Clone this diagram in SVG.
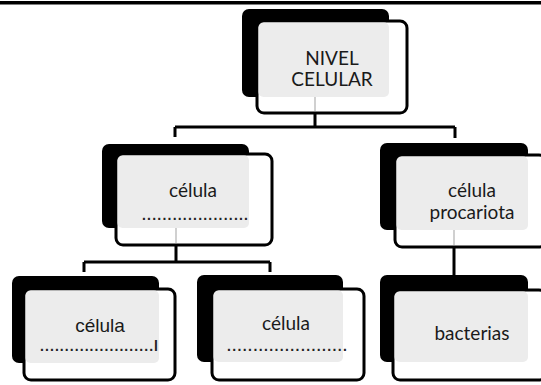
<svg xmlns="http://www.w3.org/2000/svg" width="541" height="385" viewBox="0 0 541 385">
<style>
.blk{fill:#000}
.wht{fill:#fff;stroke:#000;stroke-width:3}
.gry{fill:#ececec}
.lbl{font-family:Lato,"Open Sans",sans-serif;font-size:19px;fill:#1a1a1a;text-anchor:middle}
.arial{font-family:"Liberation Sans",Arial,sans-serif;font-size:19px;fill:#1a1a1a;text-anchor:middle}
.dots{font-family:"Liberation Sans",Arial,sans-serif;font-size:14px;font-weight:bold;fill:#222}
.con{stroke:#000;stroke-width:3;fill:none}
.ghost{stroke:#d0d0d0;stroke-width:2;fill:none}
</style>
<rect x="0" y="1" width="541" height="3.5" fill="#000"/>
<g id="connectors">
<path class="con" d="M315,113V127M175,127H455M175,127V137M455,127V138"/>
<path class="con" d="M176,245V262M84,262H270M84,262V272M270,262V272"/>
<path class="con" d="M454,247V275"/>
</g>
<g id="n1">
<rect class="blk" x="242" y="9" width="147" height="88" rx="7"/>
<rect class="wht" x="257" y="21" width="150" height="92" rx="7"/>
<rect class="gry" x="258.5" y="22.5" width="130.5" height="74.5" rx="5"/>
<path class="ghost" d="M315,97V111"/>
<text class="lbl" x="332" y="65">NIVEL</text>
<text class="lbl" x="332" y="86">CELULAR</text>
</g>
<g id="n2">
<rect class="blk" x="102" y="144" width="147" height="84" rx="7"/>
<rect class="wht" x="116" y="154" width="156" height="91" rx="7"/>
<rect class="gry" x="117.5" y="155.5" width="131.5" height="72.5" rx="5"/>
<path class="ghost" d="M176,228V243"/>
<text class="lbl" x="193" y="197">célula</text>
<text class="dots" x="142" y="220" textLength="106" lengthAdjust="spacing">.....................</text>
</g>
<g id="n3">
<rect class="blk" x="380" y="143" width="148" height="87" rx="7"/>
<rect class="wht" x="395" y="155" width="151" height="92" rx="7"/>
<rect class="gry" x="396.5" y="156.5" width="131.5" height="73.5" rx="5"/>
<path class="ghost" d="M454,230V245"/>
<text class="lbl" x="472" y="197">célula</text>
<text class="lbl" x="472" y="219">procariota</text>
</g>
<g id="n4">
<rect class="blk" x="12" y="276" width="147" height="87" rx="7"/>
<rect class="wht" x="24" y="289" width="151" height="91" rx="7"/>
<rect class="gry" x="25.5" y="290.5" width="133.5" height="72.5" rx="5"/>
<text class="arial" x="100" y="332">célula</text>
<text class="dots" x="40" y="351" textLength="118" lengthAdjust="spacing">.......................l</text>
</g>
<g id="n5">
<rect class="blk" x="197" y="275" width="146" height="87" rx="7"/>
<rect class="wht" x="212" y="289" width="152" height="91" rx="7"/>
<rect class="gry" x="213.5" y="290.5" width="129.5" height="71.5" rx="5"/>
<text class="lbl" x="286" y="330">célula</text>
<text class="dots" x="227" y="351" textLength="120" lengthAdjust="spacing">.......................</text>
</g>
<g id="n6">
<rect class="blk" x="380" y="275" width="148" height="87" rx="7"/>
<rect class="wht" x="393" y="290" width="153" height="90" rx="7"/>
<rect class="gry" x="394.5" y="291.5" width="133.5" height="70.5" rx="5"/>
<text class="lbl" x="472" y="340">bacterias</text>
</g>
</svg>
